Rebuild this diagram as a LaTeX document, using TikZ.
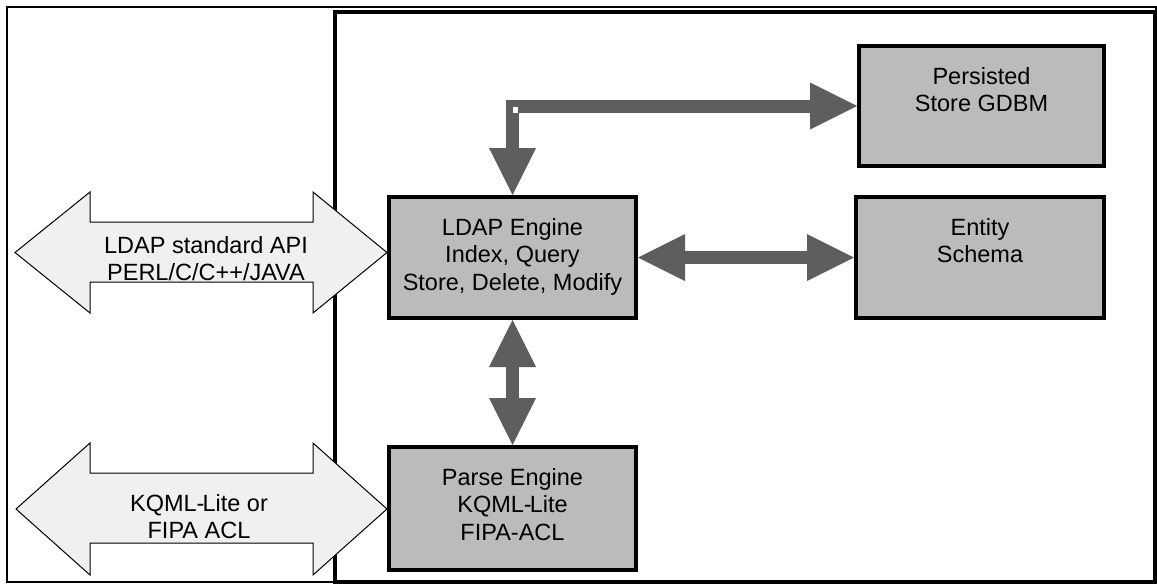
\documentclass[tikz,border=0pt]{standalone}
\usepackage{fontspec}
\setmainfont{Liberation Sans}
\usetikzlibrary{arrows.meta}

\definecolor{boxgray}{RGB}{187,187,187}
\definecolor{linkgray}{RGB}{94,94,94}
\definecolor{apifill}{RGB}{240,240,240}

% text block of a component box: first baseline 38pt below the top edge
\newcommand\boxlines[3]{\parbox[c][#2][t]{#1}{\centering\rule{0pt}{38pt}#3}}

\tikzset{
  fathead/.tip={Triangle[width=47pt,length=47pt,line width=0pt]},
  unit/.style={draw=black, line width=4pt, fill=boxgray, inner sep=0pt},
  link/.style={draw=linkgray, line width=13pt, line join=miter, arrows={fathead-fathead}},
  api/.style={draw=black, line width=1pt, fill=apifill, line join=miter},
  apilabel/.style={inner sep=0pt, anchor=base},
  frame/.style={draw=black}
}

\begin{document}
\begin{tikzpicture}[x=1pt, y=-1pt, font=\fontsize{23.5pt}{27.5pt}\selectfont]
  \useasboundingbox (0,0) rectangle (1157,584);

  % outer frame and server frame
  \draw[frame, line width=2pt] (7,6.5) rectangle (1155.5,582);
  \draw[frame, line width=4pt] (335,11.5) rectangle (1155,581.5);

  % client interfaces
  \draw[api] (15,252.5) -- (90,192) -- (90,222) -- (313,222) -- (313,192)
    -- (387,252.5) -- (313,313) -- (313,282) -- (90,282) -- (90,313) -- cycle;
  \node[apilabel] (apitext) at (206,253)
    {\parbox[t]{240pt}{\centering LDAP standard API\\PERL/C/C++/JAVA}};

  \draw[api] (16,509) -- (90,443) -- (90,473) -- (313,473) -- (313,443)
    -- (387,509) -- (313,575) -- (313,543) -- (90,543) -- (90,575) -- cycle;
  \node[apilabel] (acltext) at (199,511)
    {\parbox[t]{240pt}{\centering KQML-\kern-2pt Lite or\\FIPA ACL}};

  % components
  \node[unit, minimum width=247pt, minimum height=121pt] (ldap) at (512.5,257.5)
    {\boxlines{247pt}{121pt}{LDAP Engine\\Index, Query\\Store, Delete, Modify}};
  \node[unit, minimum width=245pt, minimum height=120pt] (persist) at (981.5,106)
    {\boxlines{245pt}{120pt}{Persisted\\Store GDBM}};
  \node[unit, minimum width=248pt, minimum height=121pt] (entity) at (980,257.5)
    {\boxlines{248pt}{121pt}{Entity\\Schema}};
  \node[unit, minimum width=247pt, minimum height=123pt] (parse) at (512.5,508.5)
    {\boxlines{247pt}{123pt}{Parse Engine\\KQML-\kern-2pt Lite\\FIPA-ACL}};

  % links between components
  \draw[link] (ldap.north) |- (persist.west);
  \draw[link] (ldap.east) -- (entity.west);
  \draw[link] (ldap.south) -- (parse.north);

  % small notch at the elbow of the store link
  \fill[white] (512.5,107) rectangle (518,112.5);
\end{tikzpicture}
\end{document}
